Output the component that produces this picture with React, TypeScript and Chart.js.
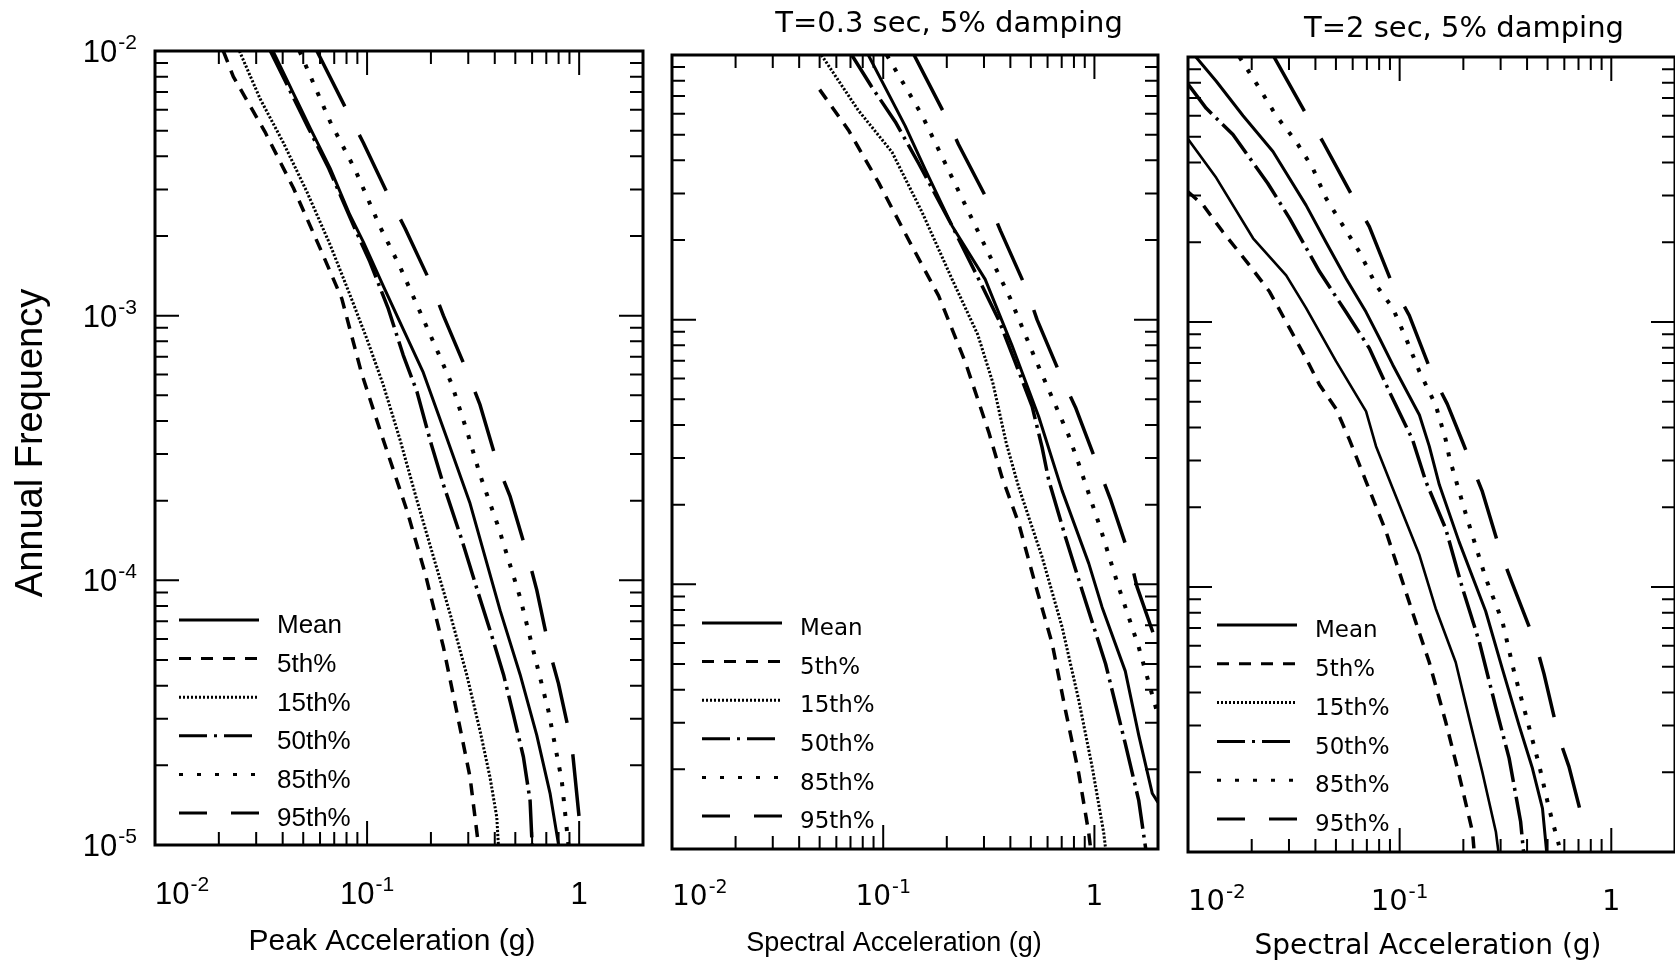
import React, { useEffect, useRef } from "react";
import { Chart, registerables } from "chart.js";
Chart.register(...registerables);

type Pt = [number, number];

// ---------------- data (acceleration g, annual frequency) ----------------
// Panel 1: Peak acceleration
const pgaMean: Pt[] = [[0.036,1e-2],[0.054,5.1e-3],[0.067,3.6e-3],[0.083,2.4e-3],[0.096,1.9e-3],[0.119,1.3e-3],[0.148,8.9e-4],[0.184,6.1e-4],[0.236,3.5e-4],[0.306,1.95e-4],[0.424,7.7e-5],[0.527,4.4e-5],[0.631,2.6e-5],[0.73,1.56e-5],[0.8,1e-5]];
const pga5: Pt[] = [[0.021,1e-2],[0.0234,8.0e-3],[0.033,4.95e-3],[0.045,3.03e-3],[0.06,1.8e-3],[0.076,1.16e-3],[0.094,6.1e-4],[0.115,3.7e-4],[0.154,1.84e-4],[0.188,1.06e-4],[0.229,5.6e-5],[0.28,2.56e-5],[0.306,1.8e-5],[0.335,1e-5]];
const pga15: Pt[] = [[0.025,1e-2],[0.0313,6.6e-3],[0.0403,4.5e-3],[0.052,2.94e-3],[0.067,1.85e-3],[0.083,1.2e-3],[0.0996,8.2e-4],[0.119,5.5e-4],[0.143,3.4e-4],[0.172,2.0e-4],[0.206,1.22e-4],[0.246,7.5e-5],[0.295,4.4e-5],[0.341,2.7e-5],[0.38,1.8e-5],[0.409,1.27e-5],[0.416,1e-5]];
const pga50: Pt[] = [[0.035,1e-2],[0.053,5.1e-3],[0.066,3.6e-3],[0.089,2.07e-3],[0.103,1.6e-3],[0.126,1.06e-3],[0.148,7.1e-4],[0.172,5.15e-4],[0.2,3.3e-4],[0.229,2.3e-4],[0.28,1.42e-4],[0.335,8.9e-5],[0.394,5.9e-5],[0.44,4.4e-5],[0.49,3.1e-5],[0.546,2.15e-5],[0.587,1.47e-5],[0.6,1e-5]];
const pga85: Pt[] = [[0.048,1e-2],[0.067,5.4e-3],[0.088,3.55e-3],[0.115,2.17e-3],[0.143,1.53e-3],[0.181,1.0e-3],[0.217,7.2e-4],[0.251,5.5e-4],[0.301,3.5e-4],[0.341,2.5e-4],[0.416,1.59e-4],[0.527,8.6e-5],[0.609,5.4e-5],[0.717,3.2e-5],[0.828,1.75e-5],[0.89,1e-5]];
const pga95: Pt[] = [[0.058,1e-2],[0.0817,5.8e-3],[0.096,4.5e-3],[0.128,2.77e-3],[0.151,2.14e-3],[0.202,1.3e-3],[0.229,1.0e-3],[0.301,5.96e-4],[0.341,4.6e-4],[0.416,2.68e-4],[0.473,2.07e-4],[0.577,1.21e-4],[0.631,9.2e-5],[0.73,5.3e-5],[0.799,4.07e-5],[0.923,2.4e-5],[0.957,1.8e-5],[1.03,1e-5]];

// Panel 2: T=0.3 sec spectral acceleration
const sa03Mean: Pt[] = [[0.085,1e-2],[0.127,5.4e-3],[0.158,3.7e-3],[0.212,2.26e-3],[0.304,1.42e-3],[0.407,8.0e-4],[0.545,4.3e-4],[0.703,2.26e-4],[0.94,1.2e-4],[1.087,8.2e-5],[1.4,4.7e-5],[1.62,2.7e-5],[1.88,1.62e-5],[2.0,1.5e-5],[2.2,1.3e-5]];
const sa03_5: Pt[] = [[0.05,7.4e-3],[0.0685,5.2e-3],[0.095,3.3e-3],[0.132,2.0e-3],[0.183,1.23e-3],[0.245,6.9e-4],[0.316,3.76e-4],[0.365,2.54e-4],[0.438,1.7e-4],[0.525,1.0e-4],[0.63,6.0e-5],[0.729,3.35e-5],[0.843,1.93e-5],[0.94,1.15e-5],[0.96,1e-5]];
const sa03_15: Pt[] = [[0.051,1e-2],[0.076,6.2e-3],[0.11,4.3e-3],[0.153,2.54e-3],[0.212,1.42e-3],[0.28,8.8e-4],[0.33,5.8e-4],[0.383,3.4e-4],[0.438,2.33e-4],[0.565,1.27e-4],[0.703,6.9e-5],[0.843,3.65e-5],[0.975,2.05e-5],[1.107,1.15e-5],[1.13,1e-5]];
const sa03_50: Pt[] = [[0.071,1e-2],[0.088,7.6e-3],[0.114,5.6e-3],[0.147,3.9e-3],[0.212,2.26e-3],[0.294,1.34e-3],[0.352,1.0e-3],[0.422,6.9e-4],[0.507,4.7e-4],[0.565,3.3e-4],[0.608,2.47e-4],[0.729,1.51e-4],[0.874,9.5e-5],[1.13,5.0e-5],[1.4,2.5e-5],[1.62,1.53e-5],[1.75,1e-5]];
const sa03_85: Pt[] = [[0.104,1e-2],[0.153,5.9e-3],[0.208,3.55e-3],[0.294,2.0e-3],[0.4,1.2e-3],[0.525,7.1e-4],[0.755,3.65e-4],[0.843,2.85e-4],[1.07,1.62e-4],[1.3,9.8e-5],[1.62,5.8e-5],[2.0,3.2e-5],[2.2,2.4e-5]];
const sa03_95: Pt[] = [[0.14,1e-2],[0.197,5.9e-3],[0.227,4.6e-3],[0.316,2.77e-3],[0.359,2.17e-3],[0.48,1.29e-3],[0.535,1.0e-3],[0.703,5.97e-4],[0.813,4.67e-4],[1.05,2.73e-4],[1.19,2.1e-4],[1.48,1.25e-4],[1.59,9.8e-5],[2.0,5.8e-5],[2.3,4.3e-5]];

// Panel 3: T=2 sec spectral acceleration
const sa2Mean: Pt[] = [[0.0109,1e-2],[0.0136,8.1e-3],[0.0182,6.0e-3],[0.0252,4.4e-3],[0.0361,2.76e-3],[0.0449,2.0e-3],[0.0558,1.46e-3],[0.0694,1.09e-3],[0.0802,8.7e-4],[0.0927,6.9e-4],[0.124,4.46e-4],[0.138,3.4e-4],[0.154,2.43e-4],[0.191,1.48e-4],[0.255,8.1e-5],[0.306,4.9e-5],[0.367,3.0e-5],[0.424,2.07e-5],[0.473,1.46e-5],[0.495,1e-5]];
const sa2_5: Pt[] = [[0.01,3.1e-3],[0.0118,2.76e-3],[0.0146,2.19e-3],[0.0195,1.64e-3],[0.0243,1.3e-3],[0.0291,1.0e-3],[0.0361,7.3e-4],[0.0418,5.8e-4],[0.0501,4.7e-4],[0.0579,3.6e-4],[0.0694,2.5e-4],[0.0862,1.62e-4],[0.0996,1.14e-4],[0.119,7.4e-5],[0.138,5.2e-5],[0.165,3.1e-5],[0.191,1.95e-5],[0.221,1.19e-5],[0.225,1e-5]];
const sa2_15: Pt[] = [[0.01,4.9e-3],[0.0136,3.5e-3],[0.0203,2.07e-3],[0.0291,1.5e-3],[0.0361,1.13e-3],[0.0501,7.1e-4],[0.0694,4.6e-4],[0.0773,3.4e-4],[0.0927,2.36e-4],[0.124,1.32e-4],[0.148,8.3e-5],[0.184,5.2e-5],[0.213,3.2e-5],[0.246,2.0e-5],[0.285,1.19e-5],[0.293,1e-5]];
const sa2_50: Pt[] = [[0.01,7.9e-3],[0.0122,6.4e-3],[0.0163,5.1e-3],[0.0238,3.34e-3],[0.0302,2.46e-3],[0.0418,1.55e-3],[0.0558,1.09e-3],[0.0719,7.96e-4],[0.0894,5.46e-4],[0.115,3.6e-4],[0.133,2.5e-4],[0.165,1.66e-4],[0.198,9.9e-5],[0.238,6.2e-5],[0.285,3.5e-5],[0.329,2.26e-5],[0.373,1.3e-5],[0.385,1e-5]];
const sa2_85: Pt[] = [[0.0175,1e-2],[0.0218,7.6e-3],[0.0261,6.0e-3],[0.0324,4.8e-3],[0.0389,3.8e-3],[0.0449,2.93e-3],[0.0538,2.32e-3],[0.0645,1.84e-3],[0.0773,1.38e-3],[0.0927,1.13e-3],[0.107,8.7e-4],[0.124,6.5e-4],[0.148,4.86e-4],[0.165,3.6e-4],[0.172,3.06e-4],[0.206,1.87e-4],[0.255,1.08e-4],[0.306,7.4e-5],[0.347,4.8e-5],[0.394,3.3e-5],[0.456,2.13e-5],[0.508,1.46e-5],[0.566,1.06e-5]];
const sa2_95: Pt[] = [[0.0255,1e-2],[0.0361,6.1e-3],[0.0433,4.8e-3],[0.0611,2.89e-3],[0.0719,2.29e-3],[0.0927,1.38e-3],[0.111,1.06e-3],[0.143,6.3e-4],[0.168,4.9e-4],[0.198,3.54e-4],[0.246,2.29e-4],[0.301,1.34e-4],[0.341,1.03e-4],[0.44,6.1e-5],[0.481,4.7e-5],[0.566,2.7e-5],[0.631,2.1e-5],[0.757,1.19e-5]];

const seriesNames = ["Mean", "5th%", "15th%", "50th%", "85th%", "95th%"];

const xTickValues = [0.01, 0.1, 1];
const xTickBases = ["10", "10", "1"];
const xTickExps = ["-2", "-1", ""];
const yTickValues = [1e-2, 1e-3, 1e-4, 1e-5];
const yTickExps = ["-2", "-3", "-4", "-5"];

const panelTitles = ["", "T=0.3 sec, 5% damping", "T=2 sec, 5% damping"];
const xAxisTitles = ["Peak Acceleration (g)", "Spectral Acceleration (g)", "Spectral Acceleration (g)"];
const yAxisTitle = "Annual Frequency";

// ---------------- styles ----------------
const LIB = '"Liberation Sans", Arial, Helvetica, sans-serif';
const DJV = '"DejaVu Sans", "Liberation Sans", sans-serif';

const LINE_STYLES = [
  { dash: [] as number[], width: 3, legendDash: [] as number[] },
  { dash: [12, 9], width: 3.5, legendDash: [12, 10] },
  { dash: [2.2, 1.8], width: 3, legendDash: [2, 2] },
  { dash: [38, 6, 3, 6], width: 3.5, legendDash: [28, 7, 3, 7] },
  { dash: [4, 11], width: 4, legendDash: [4, 14] },
  { dash: [62, 32], width: 3.5, legendDash: [28, 24] },
];

interface PanelSpec {
  series: Pt[][];
  area: { l: number; r: number; t: number; b: number };
  title: string;
  titleX: number; titleY: number; titleFont: string;
  xTitle: string; xTitleX: number; xTitleY: number; xTitleFont: string;
  tickFamily: string; tickBase: number; tickExp: number; xLabelY: number;
  yLabels: boolean;
  legend: { x: number; tx: number; y0: number; dy: number; font: string; size: number };
  dashOverride?: { [k: number]: number[] };
  widthOverride?: { [k: number]: number };
}

const PANELS: PanelSpec[] = [
  {
    series: [pgaMean, pga5, pga15, pga50, pga85, pga95],
    area: { l: 155, r: 643, t: 51, b: 845 },
    title: panelTitles[0], titleX: 400, titleY: 24, titleFont: `29px ${DJV}`,
    xTitle: xAxisTitles[0], xTitleX: 392, xTitleY: 942, xTitleFont: `30px ${LIB}`,
    tickFamily: LIB, tickBase: 31, tickExp: 21, xLabelY: 893,
    yLabels: true,
    legend: { x: 179, tx: 277, y0: 620, dy: 38.6, font: LIB, size: 26 },
  },
  {
    series: [sa03Mean, sa03_5, sa03_15, sa03_50, sa03_85, sa03_95],
    area: { l: 672, r: 1158, t: 55, b: 849 },
    title: panelTitles[1], titleX: 949, titleY: 24, titleFont: `29px ${DJV}`,
    xTitle: xAxisTitles[1], xTitleX: 894, xTitleY: 944, xTitleFont: `27px ${LIB}`,
    tickFamily: DJV, tickBase: 28, tickExp: 19, xLabelY: 895,
    yLabels: false,
    legend: { x: 702, tx: 800, y0: 623, dy: 38.6, font: DJV, size: 23 },
  },
  {
    series: [sa2Mean, sa2_5, sa2_15, sa2_50, sa2_85, sa2_95],
    area: { l: 1188, r: 1675, t: 57, b: 852 },
    title: panelTitles[2], titleX: 1464, titleY: 29, titleFont: `29px ${DJV}`,
    xTitle: xAxisTitles[2], xTitleX: 1428, xTitleY: 947, xTitleFont: `28px ${DJV}`,
    tickFamily: DJV, tickBase: 29, tickExp: 20, xLabelY: 900,
    yLabels: false,
    legend: { x: 1217, tx: 1315, y0: 625, dy: 38.8, font: DJV, size: 23 },
    dashOverride: { 2: [] },
    widthOverride: { 2: 2.6 },
  },
];

function drawPow(
  ctx: CanvasRenderingContext2D, ax: number, cy: number, base: string, exp: string,
  family: string, bSize: number, eSize: number, align: "left" | "center" | "right"
) {
  ctx.font = `${bSize}px ${family}`;
  const wb = ctx.measureText(base).width;
  ctx.font = `${eSize}px ${family}`;
  const we = exp ? ctx.measureText(exp).width + 1 : 0;
  const total = wb + we;
  const x0 = align === "right" ? ax - total : align === "center" ? ax - total / 2 : ax;
  const baseY = cy + bSize * 0.36;
  ctx.textAlign = "left";
  ctx.textBaseline = "alphabetic";
  ctx.font = `${bSize}px ${family}`;
  ctx.fillText(base, x0, baseY);
  if (exp) {
    ctx.font = `${eSize}px ${family}`;
    ctx.fillText(exp, x0 + wb + 1, baseY - bSize * 0.42);
  }
}

function decorPlugin(p: PanelSpec) {
  return {
    id: "decor",
    afterDraw(chart: any) {
      const ctx = chart.ctx as CanvasRenderingContext2D;
      const { left, right, top, bottom } = chart.chartArea;
      const xs = chart.scales.x;
      const ys = chart.scales.y;
      ctx.save();
      ctx.strokeStyle = "#000";
      ctx.fillStyle = "#000";
      ctx.setLineDash([]);

      // frame
      ctx.lineWidth = 3;
      ctx.strokeRect(left, top, right - left, bottom - top);

      // ticks (inward, mirrored)
      const MAJ = 24, MIN = 13;
      ctx.lineWidth = 2;
      ctx.beginPath();
      for (let d = -5; d <= -3; d++) {
        for (let m = 1; m <= 9; m++) {
          const v = m * Math.pow(10, d);
          const py = ys.getPixelForValue(v);
          const len = m === 1 ? MAJ : MIN;
          ctx.moveTo(left, py); ctx.lineTo(left + len, py);
          ctx.moveTo(right, py); ctx.lineTo(right - len, py);
        }
      }
      for (let d = -2; d <= 0; d++) {
        for (let m = 1; m <= 9; m++) {
          const v = m * Math.pow(10, d);
          if (v >= xs.max * 0.999) continue;
          const px = xs.getPixelForValue(v);
          const len = m === 1 ? MAJ : MIN;
          ctx.moveTo(px, top); ctx.lineTo(px, top + len);
          ctx.moveTo(px, bottom); ctx.lineTo(px, bottom - len);
        }
      }
      ctx.stroke();

      // x tick labels (first one kept inside the axis start)
      xTickValues.forEach((v, i) => {
        drawPow(ctx, xs.getPixelForValue(v), p.xLabelY, xTickBases[i], xTickExps[i], p.tickFamily, p.tickBase, p.tickExp, i === 0 ? "left" : "center");
      });
      // y tick labels
      if (p.yLabels) {
        yTickValues.forEach((v, i) => {
          drawPow(ctx, 137, ys.getPixelForValue(v), "10", yTickExps[i], p.tickFamily, p.tickBase, p.tickExp, "right");
        });
        ctx.save();
        ctx.translate(32, 443);
        ctx.rotate(-Math.PI / 2);
        ctx.textAlign = "center";
        ctx.textBaseline = "middle";
        ctx.font = `38px ${LIB}`;
        ctx.fillText(yAxisTitle, 0, 0);
        ctx.restore();
      }

      // axis title & panel title
      ctx.textAlign = "center";
      ctx.textBaseline = "middle";
      ctx.font = p.xTitleFont;
      ctx.fillText(p.xTitle, p.xTitleX, p.xTitleY);
      if (p.title) {
        ctx.font = p.titleFont;
        ctx.fillText(p.title, p.titleX, p.titleY);
      }

      // legend
      const L = p.legend;
      seriesNames.forEach((name, i) => {
        const y = L.y0 + i * L.dy;
        const st = LINE_STYLES[i];
        ctx.setLineDash(st.legendDash);
        ctx.lineWidth = Math.min(st.width, 3);
        ctx.lineCap = "butt";
        ctx.beginPath();
        ctx.moveTo(L.x, y);
        ctx.lineTo(L.x + 80, y);
        ctx.stroke();
        ctx.setLineDash([]);
        ctx.font = `${L.size}px ${L.font}`;
        ctx.textAlign = "left";
        ctx.textBaseline = "alphabetic";
        ctx.fillText(name, L.tx, y + 4 + L.size * 0.36);
      });
      ctx.restore();
    },
  };
}

function makeConfig(p: PanelSpec): any {
  const W = 1675, H = 966;
  return {
    type: "scatter",
    data: {
      datasets: p.series.map((pts, i) => ({
        label: seriesNames[i],
        data: pts.map(([x, y]) => ({ x, y })),
        showLine: true,
        pointRadius: 0,
        pointHoverRadius: 0,
        borderColor: "#000",
        backgroundColor: "#000",
        borderWidth: p.widthOverride && p.widthOverride[i] !== undefined ? p.widthOverride[i] : LINE_STYLES[i].width,
        borderDash: p.dashOverride && p.dashOverride[i] ? p.dashOverride[i] : LINE_STYLES[i].dash,
        borderCapStyle: "butt",
        borderJoinStyle: "round",
        fill: false,
        tension: 0,
      })),
    },
    options: {
      responsive: false,
      animation: false,
      devicePixelRatio: 1,
      events: [],
      layout: { padding: { left: p.area.l, right: W - p.area.r, top: p.area.t, bottom: H - p.area.b } },
      scales: {
        x: { type: "logarithmic", min: 0.01, max: 2, display: false },
        y: { type: "logarithmic", min: 1e-5, max: 1e-2, display: false },
      },
      plugins: { legend: { display: false }, tooltip: { enabled: false } },
    },
    plugins: [decorPlugin(p)],
  };
}

export default function App() {
  const r0 = useRef<HTMLCanvasElement>(null);
  const r1 = useRef<HTMLCanvasElement>(null);
  const r2 = useRef<HTMLCanvasElement>(null);
  useEffect(() => {
    const refs = [r0, r1, r2];
    const charts = PANELS.map((p, i) => new Chart(refs[i].current as HTMLCanvasElement, makeConfig(p)));
    return () => charts.forEach((c) => c.destroy());
  }, []);
  const cs: React.CSSProperties = { position: "absolute", left: 0, top: 0, width: 1675, height: 966 };
  return (
    <div style={{ position: "fixed", left: 0, top: 0, width: 1675, height: 966, background: "#fff", overflow: "hidden" }}>
      <canvas ref={r0} width={1675} height={966} style={cs} />
      <canvas ref={r1} width={1675} height={966} style={cs} />
      <canvas ref={r2} width={1675} height={966} style={cs} />
    </div>
  );
}
